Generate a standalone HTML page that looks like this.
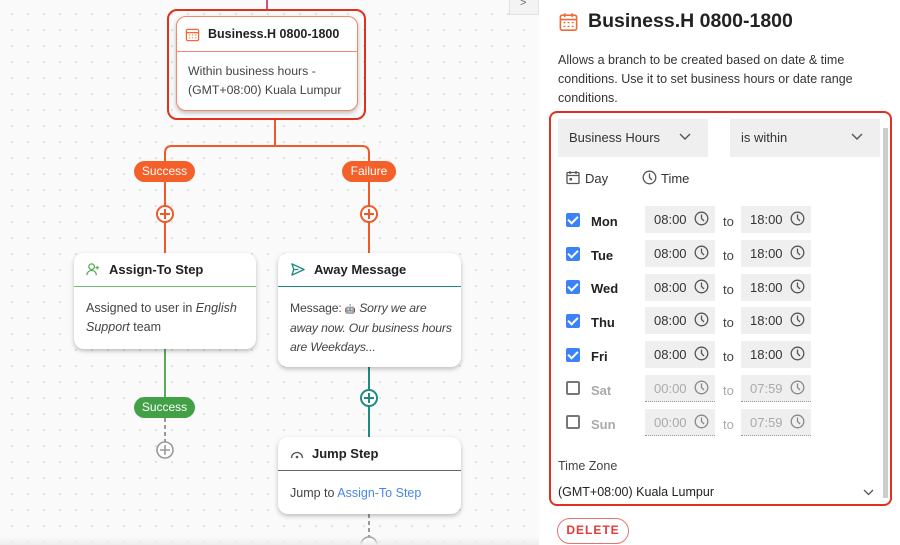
<!DOCTYPE html>
<html><head><meta charset="utf-8"><style>
*{box-sizing:border-box;margin:0;padding:0}
body{width:900px;height:545px;overflow:hidden;position:relative;font-family:"Liberation Sans",sans-serif;background:#fafafa;color:#222}
.canvas{position:absolute;left:0;top:0;width:539px;height:545px;background-color:#fafafa;background-image:radial-gradient(#dedede 1px,transparent 1.2px);background-size:16px 16px;background-position:4px 6px}
.abs{position:absolute}
.card{position:absolute;background:#fff;border-radius:10px;box-shadow:0 2px 5px rgba(0,0,0,.25)}
.card .hd{height:34px;display:flex;align-items:center;padding-left:12px;font-size:13px;font-weight:bold;color:#222;gap:8px}
.card .bd{padding:12px 12px;font-size:12.5px;line-height:19px;color:#444}
.pill{position:absolute;height:21px;border-radius:11px;color:#fff;font-size:12px;text-align:center;line-height:21px}
.panel{position:absolute;left:539px;top:0;width:361px;height:545px;background:#fff}
.tb{position:absolute;width:70px;height:27px;background:#efefef;font-size:13px;line-height:27px;padding-left:9px;color:#333}
.tb svg{position:absolute;right:6px;top:5px}
.dis{color:#aaa;border-bottom:1px dotted #999}
.cb{position:absolute;width:14px;height:14px;border-radius:2px;background:#3b82f6}
.cbo{position:absolute;width:14px;height:14px;border-radius:2px;border:2px solid #777;background:#fff}
.day{position:absolute;font-size:13px;font-weight:bold}
.to{position:absolute;font-size:13px;color:#444}
.cb::after{content:"";position:absolute;left:4px;top:1px;width:4px;height:8px;border:solid #fff;border-width:0 2px 2px 0;transform:rotate(45deg)}
</style></head><body>
<div class="canvas"></div>
<div class="abs" style="left:509px;top:-2px;width:30px;height:17px;background:#f3f3f3;border:1px solid #e2e2e2;"></div>
<div class="abs" style="left:520px;top:-3px;font-size:11px;color:#666">&gt;</div>

<svg class="abs" style="left:0;top:0" width="539" height="545">
<line x1="267" y1="0" x2="267" y2="9" stroke="#c2185b" stroke-width="1.5"/>
<path d="M275 120 V146 M165 161 V153 Q165 146 172 146 H362 Q369 146 369 153 V161" fill="none" stroke="#ef5a2a" stroke-width="2"/>
<line x1="165" y1="182" x2="165" y2="253" stroke="#ef5a2a" stroke-width="2"/>
<line x1="369" y1="182" x2="369" y2="253" stroke="#ef5a2a" stroke-width="2"/>
<circle cx="165" cy="214" r="8" fill="#fff" stroke="#ef5a2a" stroke-width="2"/>
<path d="M160 214h10M165 209v10" stroke="#ef5a2a" stroke-width="2"/>
<circle cx="369" cy="214" r="8" fill="#fff" stroke="#ef5a2a" stroke-width="2"/>
<path d="M364 214h10M369 209v10" stroke="#ef5a2a" stroke-width="2"/>
<line x1="165" y1="349" x2="165" y2="397" stroke="#5aa95a" stroke-width="2"/>
<line x1="165" y1="418" x2="165" y2="442" stroke="#999" stroke-width="2" stroke-dasharray="4 3"/>
<circle cx="165" cy="450" r="8" fill="#fff" stroke="#999" stroke-width="1.6"/>
<path d="M160 450h10M165 445v10" stroke="#999" stroke-width="1.6"/>
<line x1="369" y1="367" x2="369" y2="437" stroke="#1f8a80" stroke-width="2"/>
<circle cx="369" cy="398" r="8" fill="#fff" stroke="#1f8a80" stroke-width="2"/>
<path d="M364 398h10M369 393v10" stroke="#1f8a80" stroke-width="2"/>
<line x1="369" y1="514" x2="369" y2="537" stroke="#999" stroke-width="2" stroke-dasharray="4 3"/>
<circle cx="369" cy="545" r="8" fill="#fff" stroke="#999" stroke-width="1.6"/>
</svg>

<div class="abs" style="left:167px;top:9px;width:199px;height:111px;border:2.5px solid #e0301e;border-radius:10px"></div>
<div class="card" style="left:176px;top:16px;width:182px;height:95px;border:1px solid #f08a6a">
 <div class="hd" style="height:35px;border-bottom:1.5px solid #f08a6a;padding-left:8px">
  <svg width="15" height="15" viewBox="0 0 16 16"><rect x="1.5" y="2.5" width="13" height="12" rx="1.5" fill="none" stroke="#ef6a3a" stroke-width="1.4"/><path d="M1.5 6h13" stroke="#ef6a3a" stroke-width="1.4"/><path d="M4 8.5h1.5M7.3 8.5h1.5M10.6 8.5h1.5M4 11.5h1.5M7.3 11.5h1.5M10.6 11.5h1.5" stroke="#ef6a3a"/></svg>
  <span style="font-size:12.5px">Business.H 0800-1800</span></div>
 <div class="bd" style="padding:10px 11px;font-size:12.3px">Within business hours - (GMT+08:00) Kuala Lumpur</div>
</div>
<div class="pill" style="left:134px;top:161px;width:61px;background:#f4602a">Success</div>
<div class="pill" style="left:342px;top:161px;width:54px;background:#f4602a">Failure</div>

<div class="card" style="left:74px;top:253px;width:182px;height:96px">
 <div class="hd" style="border-bottom:1.5px solid #6cbf6c">
  <svg width="15" height="15" viewBox="0 0 16 16"><circle cx="6" cy="5" r="3" fill="none" stroke="#4caf50" stroke-width="1.3"/><path d="M1 14c0-3 2.5-5 5-5s5 2 5 5" fill="none" stroke="#4caf50" stroke-width="1.3"/><path d="M12 4v4M10 6h4" stroke="#4caf50" stroke-width="1.2"/></svg>
  <span>Assign-To Step</span></div>
 <div class="bd">Assigned to user in <i>English Support</i> team</div>
</div>
<div class="card" style="left:278px;top:253px;width:183px;height:114px">
 <div class="hd" style="border-bottom:1.5px solid #1f8a80">
  <svg width="16" height="15" viewBox="0 0 16 16"><path d="M1.5 2l13 6-13 6 2-6z M3.5 8h5" fill="none" stroke="#1f8a80" stroke-width="1.4" stroke-linejoin="round"/></svg>
  <span>Away Message</span></div>
 <div class="bd" style="font-size:12.2px;letter-spacing:-0.15px;padding-right:6px">Message: <span style="font-size:9px">🤖</span> <i>Sorry we are<br>away now. Our business hours<br>are Weekdays...</i></div>
</div>
<div class="pill" style="left:134px;top:397px;width:61px;background:#43a047">Success</div>
<div class="card" style="left:278px;top:437px;width:183px;height:77px">
 <div class="hd" style="border-bottom:1.5px solid #666">
  <svg width="14" height="12" viewBox="0 0 14 12"><path d="M1.5 10A5.5 5.5 0 0 1 12.5 10" fill="none" stroke="#555" stroke-width="1.3"/><circle cx="7" cy="9" r="1.3" fill="#555"/></svg>
  <span>Jump Step</span></div>
 <div class="bd" style="padding-top:13px">Jump to <span style="color:#4a86e8">Assign-To Step</span></div>
</div>
<div class="abs" style="left:0;top:537px;width:539px;height:8px;background:linear-gradient(#f9f9f900,#eeeeee)"></div>

<div class="panel">
 <svg class="abs" style="left:19px;top:12px" width="21" height="20" viewBox="0 0 16 16"><rect x="1.5" y="2.5" width="13" height="12" rx="1.5" fill="none" stroke="#ef6a3a" stroke-width="1.3"/><path d="M1.5 6h13M5 1v3M11 1v3" stroke="#ef6a3a" stroke-width="1.3"/><path d="M4 8.5h1.5M7.3 8.5h1.5M10.6 8.5h1.5M4 11.5h1.5M7.3 11.5h1.5M10.6 11.5h1.5" stroke="#ef6a3a"/></svg>
 <div class="abs" style="left:49px;top:10px;font-size:19.5px;font-weight:bold;color:#222">Business.H 0800-1800</div>
 <div class="abs" style="left:19px;top:51px;width:320px;font-size:12.5px;line-height:18.8px;color:#333">Allows a branch to be created based on date &amp; time conditions. Use it to set business hours or date range conditions.</div>
</div>
<div class="abs" style="left:549px;top:111px;width:343px;height:395px;border:2px solid #e0301e;border-radius:8px"></div>
<div class="abs" style="left:883px;top:128px;width:5px;height:370px;background:#ccc"></div>
<div class="abs" style="left:558px;top:119px;width:150px;height:38px;background:#efefef;font-size:13px;line-height:38px;padding-left:11px;color:#333">Business Hours</div>
<svg class="abs" style="left:679px;top:133px" width="12" height="8"><path d="M1 1l5 5 5-5" fill="none" stroke="#555" stroke-width="1.4"/></svg>
<div class="abs" style="left:730px;top:119px;width:150px;height:38px;background:#efefef;font-size:13px;line-height:38px;padding-left:11px;color:#333">is within</div>
<svg class="abs" style="left:851px;top:133px" width="12" height="8"><path d="M1 1l5 5 5-5" fill="none" stroke="#555" stroke-width="1.4"/></svg>
<svg class="abs" style="left:566px;top:170px" width="14" height="15" viewBox="0 0 14 15"><rect x="1" y="2.5" width="12" height="11" rx="1" fill="none" stroke="#555" stroke-width="1.3"/><path d="M1 5.5h12M4 1v3M10 1v3" stroke="#555" stroke-width="1.3"/><rect x="3.5" y="8" width="2.5" height="2.5" fill="#555"/></svg>
<div class="abs" style="left:585px;top:171px;font-size:13px;color:#333">Day</div>
<svg class="abs" style="left:642px;top:170px" width="15" height="15"><circle cx="7.5" cy="7.5" r="6.3" fill="none" stroke="#555" stroke-width="1.3"/><path d="M7.5 3.5v4l2.5 2.5" fill="none" stroke="#555" stroke-width="1.3"/></svg>
<div class="abs" style="left:661px;top:171px;font-size:13px;color:#333">Time</div>

<div class="cb" style="left:566px;top:213px"></div><div class="day" style="left:591px;top:214px">Mon</div>
<div class="cb" style="left:566px;top:247px"></div><div class="day" style="left:591px;top:248px">Tue</div>
<div class="cb" style="left:566px;top:280px"></div><div class="day" style="left:591px;top:281px">Wed</div>
<div class="cb" style="left:566px;top:314px"></div><div class="day" style="left:591px;top:315px">Thu</div>
<div class="cb" style="left:566px;top:348px"></div><div class="day" style="left:591px;top:349px">Fri</div>
<div class="cbo" style="left:566px;top:381px"></div><div class="day" style="left:591px;top:383px;color:#aaa">Sat</div>
<div class="cbo" style="left:566px;top:415px"></div><div class="day" style="left:591px;top:417px;color:#aaa">Sun</div>
<svg width="0" height="0" style="position:absolute"><defs><g id="clk"><circle cx="7.5" cy="7.5" r="6.3" fill="none" stroke-width="1.3"/><path d="M7.5 3.5v4l2.5 2.5" fill="none" stroke-width="1.3"/></g></defs></svg>

<div class="tb" style="left:645px;top:206px">08:00<svg width="15" height="15" stroke="#555"><use href="#clk"/></svg></div><div class="to" style="left:723px;top:214px">to</div><div class="tb" style="left:741px;top:206px">18:00<svg width="15" height="15" stroke="#555"><use href="#clk"/></svg></div>
<div class="tb" style="left:645px;top:240px">08:00<svg width="15" height="15" stroke="#555"><use href="#clk"/></svg></div><div class="to" style="left:723px;top:248px">to</div><div class="tb" style="left:741px;top:240px">18:00<svg width="15" height="15" stroke="#555"><use href="#clk"/></svg></div>
<div class="tb" style="left:645px;top:274px">08:00<svg width="15" height="15" stroke="#555"><use href="#clk"/></svg></div><div class="to" style="left:723px;top:282px">to</div><div class="tb" style="left:741px;top:274px">18:00<svg width="15" height="15" stroke="#555"><use href="#clk"/></svg></div>
<div class="tb" style="left:645px;top:307px">08:00<svg width="15" height="15" stroke="#555"><use href="#clk"/></svg></div><div class="to" style="left:723px;top:315px">to</div><div class="tb" style="left:741px;top:307px">18:00<svg width="15" height="15" stroke="#555"><use href="#clk"/></svg></div>
<div class="tb" style="left:645px;top:341px">08:00<svg width="15" height="15" stroke="#555"><use href="#clk"/></svg></div><div class="to" style="left:723px;top:349px">to</div><div class="tb" style="left:741px;top:341px">18:00<svg width="15" height="15" stroke="#555"><use href="#clk"/></svg></div>
<div class="tb dis" style="left:645px;top:375px">00:00<svg width="15" height="15" stroke="#888"><use href="#clk"/></svg></div><div class="to" style="left:723px;top:383px;color:#aaa">to</div><div class="tb dis" style="left:741px;top:375px">07:59<svg width="15" height="15" stroke="#888"><use href="#clk"/></svg></div>
<div class="tb dis" style="left:645px;top:409px">00:00<svg width="15" height="15" stroke="#888"><use href="#clk"/></svg></div><div class="to" style="left:723px;top:417px;color:#aaa">to</div><div class="tb dis" style="left:741px;top:409px">07:59<svg width="15" height="15" stroke="#888"><use href="#clk"/></svg></div>

<div class="abs" style="left:558px;top:459px;font-size:12.5px;color:#444">Time Zone</div>
<div class="abs" style="left:558px;top:485px;font-size:12.5px;color:#222">(GMT+08:00) Kuala Lumpur</div>
<svg class="abs" style="left:863px;top:489px" width="11" height="7"><path d="M1 1l4.5 4.5 4.5-4.5" fill="none" stroke="#555" stroke-width="1.3"/></svg>
<div class="abs" style="left:557px;top:518px;width:72px;height:26px;border:1.5px solid #e57373;border-radius:13px;color:#e53935;font-size:12px;font-weight:600;text-align:center;line-height:23px;letter-spacing:1px">DELETE</div>
</body></html>
